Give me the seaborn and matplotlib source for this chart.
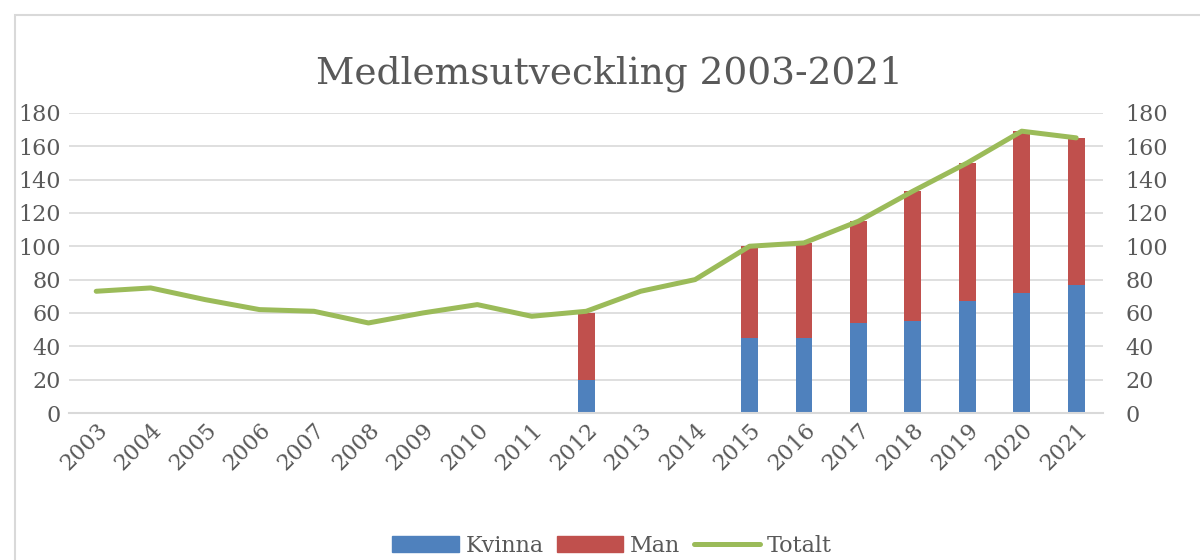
"""
Medlemsutveckling 2003-2021
Stacked bars (Kvinna/Man) with total line on top
"""

import numpy as np
import pandas as pd
import matplotlib.pyplot as plt
import matplotlib.patches as mpatches
from matplotlib.lines import Line2D
import seaborn as sns

KVINNA_COLOR = "#4F81BD"
MAN_COLOR    = "#C0504D"
TOTAL_COLOR  = "#9BBB59"
TEXT_COLOR   = "#595959"
GRID_COLOR   = "#D9D9D9"

years  = [str(y) for y in range(2003, 2022)]
kvinna = [None, None, None, None, None, None, None, None, None, 20,
          None, None, 45, 45, 54, 55, 67, 72, 77]
man    = [None, None, None, None, None, None, None, None, None, 40,
          None, None, 55, 57, 61, 78, 83, 97, 88]
totalt = [73, 75, 68, 62, 61, 54, 60, 65, 58, 61,
          73, 80, 100, 102, 115, 133, 150, 169, 165]

sns.set_theme(style="white")
plt.rcParams["font.family"] = ["DejaVu Serif"]

df = pd.DataFrame({"year": years, "Kvinna": kvinna, "Man": man, "Totalt": totalt})
df[["Kvinna", "Man"]] = df[["Kvinna", "Man"]].astype(float)
df["stack"] = df["Kvinna"] + df["Man"]

fig = plt.figure(figsize=(12, 5.6), dpi=100)
ax = fig.add_axes([0.0575, 0.2625, 0.862, 0.536])

# red = full stack height, blue drawn over it for the lower part
sns.barplot(data=df, x="year", y="stack", order=years, color=MAN_COLOR,
            width=0.31, saturation=1, linewidth=0, ax=ax)
sns.barplot(data=df, x="year", y="Kvinna", order=years, color=KVINNA_COLOR,
            width=0.31, saturation=1, linewidth=0, ax=ax)
sns.lineplot(x=np.arange(len(years)), y=df["Totalt"], color=TOTAL_COLOR,
             linewidth=3.6, ax=ax, zorder=5)

ax.set_xlim(-0.5, len(years) - 0.5)
ax.set_ylim(0, 180)
ax.set_yticks(range(0, 181, 20))
ax.set_xlabel("")
ax.set_ylabel("")
ax.grid(axis="y", color=GRID_COLOR, linewidth=1.2)
ax.set_axisbelow(True)
for s in ["top", "right", "left"]:
    ax.spines[s].set_visible(False)
ax.spines["bottom"].set_color(GRID_COLOR)
ax.spines["bottom"].set_linewidth(1.5)
ax.tick_params(axis="both", length=0, colors=TEXT_COLOR, labelsize=16)
ax.tick_params(axis="y", pad=6)
ax.tick_params(axis="x", pad=4)
plt.setp(ax.get_xticklabels(), rotation=45, ha="right", rotation_mode="anchor")

ax2 = ax.twinx()
ax2.set_ylim(0, 180)
ax2.set_yticks(range(0, 181, 20))
for s in ax2.spines.values():
    s.set_visible(False)
ax2.tick_params(axis="y", length=0, colors=TEXT_COLOR, labelsize=16, pad=16)
ax2.grid(False)

fig.suptitle("Medlemsutveckling 2003-2021", x=0.508, y=0.9,
             fontsize=27, color=TEXT_COLOR)

handles = [
    mpatches.Patch(color=KVINNA_COLOR, label="Kvinna"),
    mpatches.Patch(color=MAN_COLOR, label="Man"),
    Line2D([0], [0], color=TOTAL_COLOR, linewidth=3.6, label="Totalt"),
]
fig.legend(handles=handles, loc="center", bbox_to_anchor=(0.51, 0.025),
           ncol=3, frameon=False, fontsize=16, labelcolor=TEXT_COLOR,
           handlelength=3.0, handleheight=0.7, columnspacing=0.6,
           handletextpad=0.3)

# chart frame
fig.patches.append(mpatches.Rectangle((0.0125, -0.01), 0.99, 0.983,
                                      transform=fig.transFigure,
                                      fill=False, edgecolor=GRID_COLOR,
                                      linewidth=1.5))

fig.savefig("out.png", dpi=100)
